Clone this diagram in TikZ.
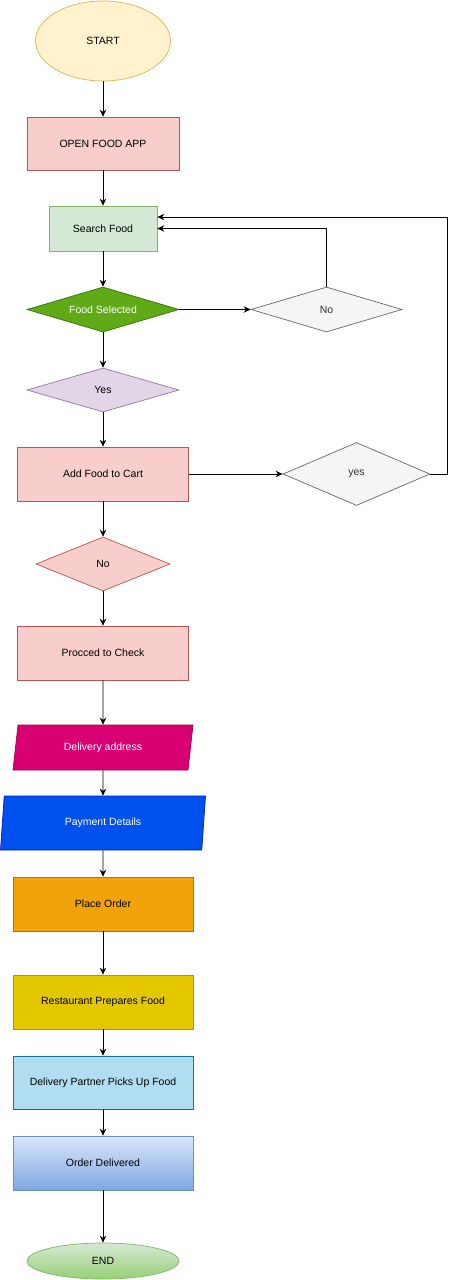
\documentclass[tikz,border=0pt]{standalone}
\usepackage{fontspec}
\setmainfont{Liberation Sans}
\usetikzlibrary{shapes.geometric,arrows.meta}

\definecolor{startfill}{HTML}{FFF2CC}
\definecolor{startline}{HTML}{D6B656}
\definecolor{pinkfill}{HTML}{F8CECC}
\definecolor{pinkline}{HTML}{B85450}
\definecolor{greenfill}{HTML}{D5E8D4}
\definecolor{greenline}{HTML}{82B366}
\definecolor{selfill}{HTML}{60A917}
\definecolor{selline}{HTML}{2D7600}
\definecolor{greyfill}{HTML}{F5F5F5}
\definecolor{greyline}{HTML}{666666}
\definecolor{greytext}{HTML}{333333}
\definecolor{lilacfill}{HTML}{E1D5E7}
\definecolor{lilacline}{HTML}{9673A6}
\definecolor{addrfill}{HTML}{D80073}
\definecolor{addrline}{HTML}{A50040}
\definecolor{payfill}{HTML}{0050EF}
\definecolor{payline}{HTML}{001DBC}
\definecolor{placefill}{HTML}{F0A30A}
\definecolor{placeline}{HTML}{BD7000}
\definecolor{prepfill}{HTML}{E3C800}
\definecolor{prepline}{HTML}{B09500}
\definecolor{pickfill}{HTML}{B1DDF0}
\definecolor{pickline}{HTML}{10739E}
\definecolor{donetop}{HTML}{DAE8FC}
\definecolor{donebottom}{HTML}{7EA6E0}
\definecolor{doneline}{HTML}{6C8EBF}
\definecolor{endbottom}{HTML}{97D077}

\begin{document}
\begin{tikzpicture}[x=1pt,y=-1pt,font=\fontsize{10.5}{12}\selectfont,
    box/.style={rectangle,draw,line width=0.7pt,minimum height=54,inner sep=2pt},
    dia/.style={diamond,draw,line width=0.7pt,inner sep=1pt,shape aspect=3.4},
    para/.style={trapezium,draw,line width=0.7pt,trapezium stretches body,inner sep=1pt},
    ell/.style={ellipse,draw,line width=0.7pt,inner sep=0pt},
    arr/.style={-{Stealth[length=7pt,width=6.5pt]},line width=0.9pt}]
      \useasboundingbox (0,0) rectangle (455,1280);
      \node[ell,fill=startfill,draw=startline,minimum width=135,minimum height=80] (start) at (103,41) {START};
      \node[box,fill=pinkfill,draw=pinkline,minimum width=152,minimum height=53] (open) at (103,143.5) {OPEN FOOD APP};
      \node[box,fill=greenfill,draw=greenline,minimum width=108,minimum height=45] (search) at (103,228.5) {Search Food};
      \node[dia,fill=selfill,draw=selline,text=white,minimum width=152,minimum height=45] (sel) at (103,309.5) {Food Selected};
      \node[dia,fill=greyfill,draw=greyline,text=greytext,minimum width=151,minimum height=45] (no1) at (326.5,309.5) {No};
      \node[dia,fill=lilacfill,draw=lilacline,minimum width=152,minimum height=44] (yes1) at (103,390) {Yes};
      \node[box,fill=pinkfill,draw=pinkline,minimum width=171] (cart) at (103,474) {Add Food to Cart};
      \node[dia,fill=greyfill,draw=greyline,text=greytext,minimum width=147,minimum height=63,shape aspect=2.3] (yes2) at (356.5,474) {yes};
      \node[dia,fill=pinkfill,draw=pinkline,minimum width=134,minimum height=54,shape aspect=2.5] (no2) at (103,564) {No};
      \node[box,fill=pinkfill,draw=pinkline,minimum width=171] (check) at (103,653) {Procced to Check};
      \node[para,fill=addrfill,draw=addrline,text=white,minimum width=180,minimum height=45,
        trapezium left angle=67,trapezium right angle=113] (addr) at (103,747.5) {Delivery address};
      \node[para,fill=payfill,draw=payline,text=white,minimum width=205,minimum height=54,
        trapezium left angle=72.5,trapezium right angle=107.5] (pay) at (103,823) {Payment Details};
      \node[box,fill=placefill,draw=placeline,minimum width=180] (place) at (103,904) {Place Order};
      \node[box,fill=prepfill,draw=prepline,minimum width=180] (prep) at (103,1002) {Restaurant Prepares Food};
      \node[box,fill=pickfill,draw=pickline,minimum width=180,minimum height=53] (pick) at (103,1082.5) {Delivery Partner Picks Up Food};
      \node[box,top color=donetop,bottom color=donebottom,draw=doneline,minimum width=180] (done) at (103,1163) {Order Delivered};
      \node[ell,top color=greenfill,bottom color=endbottom,draw=greenline,minimum width=152,minimum height=36] (stop) at (103,1261) {END};
      \coordinate (corner) at (447,474);
      \draw[arr] (start) -- (open);
      \draw[arr] (open) -- (search);
      \draw[arr] (search) -- (sel);
      \draw[arr] (sel) -- (no1);
      \draw[arr] (no1.north) |- (search.east);
      \draw[arr] (sel) -- (yes1);
      \draw[arr] (yes1) -- (cart);
      \draw[arr] (cart) -- (yes2);
      \draw[arr] (yes2.east) -- (corner) |- ([yshift=11.5pt]search.east);
      \draw[arr] (cart) -- (no2);
      \draw[arr] (no2) -- (check);
      \draw[arr] (check) -- (addr);
      \draw[arr] (addr) -- (pay);
      \draw[arr] (pay) -- (place);
      \draw[arr] (place) -- (prep);
      \draw[arr] (prep) -- (pick);
      \draw[arr] (pick) -- (done);
      \draw[arr] (done) -- (stop);
    \end{tikzpicture}
\end{document}
